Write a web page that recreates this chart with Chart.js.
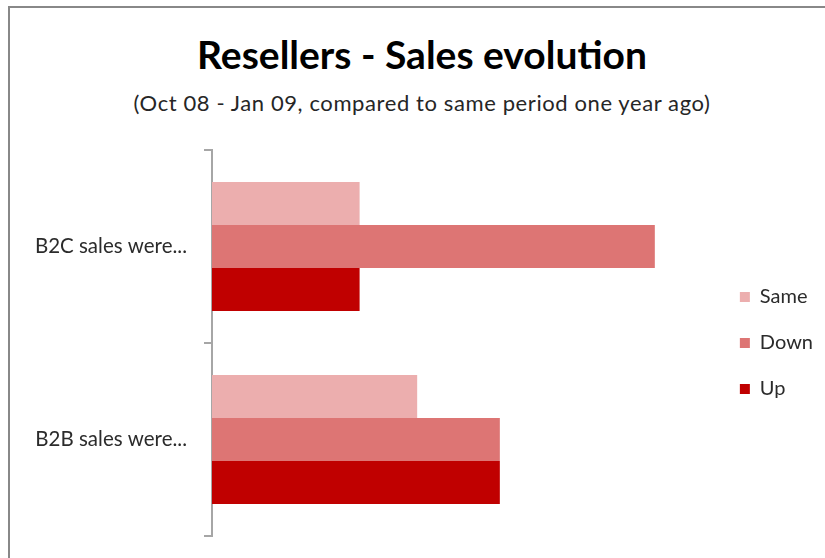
<!DOCTYPE html>
<html>
<head>
<meta charset="utf-8">
<script src="https://cdn.jsdelivr.net/npm/chart.js@4/dist/chart.umd.min.js"></script>
<style>
  html, body { margin: 0; padding: 0; background: #fff; overflow: hidden; }
  #wrap { position: relative; width: 825px; height: 558px; overflow: hidden; }
  #frame { position: absolute; left: 8px; top: 6px; width: 900px; height: 700px;
           border: 2px solid #888; box-sizing: border-box; }
  #title { position: absolute; left: 0; width: 844px; top: 29px; text-align: center;
           font-family: Lato, sans-serif; font-weight: bold; font-size: 39px; color: #000;
           line-height: 50px; white-space: nowrap; }
  #subtitle { position: absolute; left: 0; width: 844px; top: 88px; text-align: center;
              font-family: Lato, sans-serif; font-size: 22px; letter-spacing: 0.6px; color: #262626;
              line-height: 30px; white-space: nowrap; }
  canvas { position: absolute; left: 0; top: 0; }
</style>
</head>
<body>
<div id="wrap">
  <div id="frame"></div>
  <div id="title">Resellers - Sales evolution</div>
  <div id="subtitle">(Oct 08 - Jan 09, compared to same period one year ago)</div>
  <canvas id="c" width="825" height="558"></canvas>
</div>
<script>
// Categories and share of resellers (%) per answer
const categories = ['B2C sales were...', 'B2B sales were...'];
const seriesNames = ['Same', 'Down', 'Up'];
const sameValues = [20, 27.8];
const downValues = [60, 39];
const upValues = [20, 39];
const seriesColors = ['#ECAEAE', '#DD7574', '#C00000'];

const seriesValues = [sameValues, downValues, upValues];

new Chart(document.getElementById('c'), {
  type: 'bar',
  data: {
    labels: categories,
    datasets: seriesNames.map((name, i) => ({
      label: name,
      data: seriesValues[i],
      backgroundColor: seriesColors[i],
      borderWidth: 0,
      categoryPercentage: 0.668,
      barPercentage: 1.0
    }))
  },
  options: {
    indexAxis: 'y',
    responsive: false,
    animation: false,
    layout: { padding: { top: 150, bottom: 22, left: 0, right: 2 } },
    scales: {
      x: { display: false, min: 0, max: 68 },
      y: {
        afterFit: (scale) => {
          scale.width = 212;
          scale.paddingTop = 0;
          scale.paddingBottom = 0;
        },
        grid: {
          display: true,
          offset: true,
          drawOnChartArea: false,
          drawTicks: true,
          tickLength: 8,
          color: '#A6A6A6',
          lineWidth: 2
        },
        border: { display: true, color: '#A6A6A6', width: 2 },
        ticks: {
          padding: 17,
          color: '#2b2b2b',
          font: { family: 'Lato', size: 20.5 }
        }
      }
    },
    plugins: {
      legend: {
        position: 'right',
        align: 'center',
        labels: {
          boxWidth: 10,
          boxHeight: 10,
          padding: 26,
          color: '#2b2b2b',
          font: { family: 'Lato', size: 20 }
        }
      },
      tooltip: { enabled: false }
    }
  }
});
</script>
</body>
</html>
